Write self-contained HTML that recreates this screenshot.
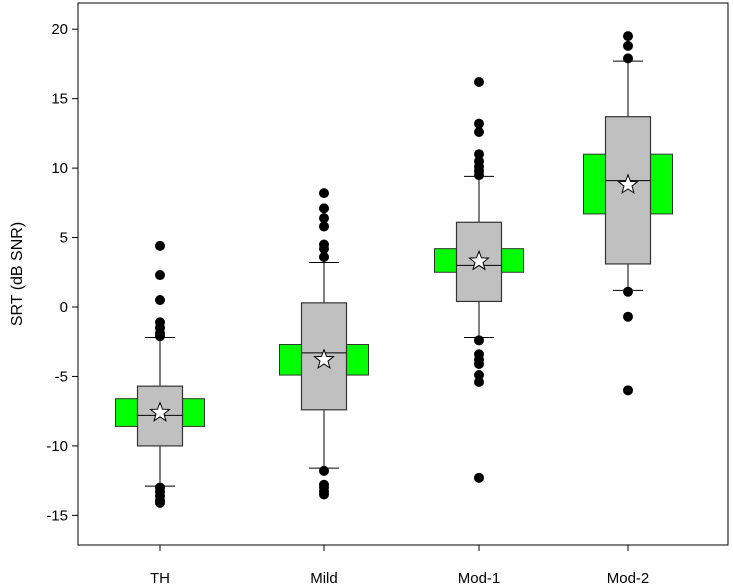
<!DOCTYPE html>
<html><head><meta charset="utf-8"><style>
html,body{margin:0;padding:0;background:#fff;}
svg{display:block;font-family:"Liberation Sans",Arial,sans-serif;}
</style></head><body>
<svg id="chart" width="733" height="584">
<g id="plot"></g>
</svg>
<script>
const categories=["TH","Mild","Mod-1","Mod-2"];
const whiskerHigh=[-2.2,3.2,9.4,17.7];
const q3=[-5.7,0.3,6.1,13.7];
const median=[-7.8,-3.3,3.0,9.1];
const q1=[-10.0,-7.4,0.4,3.1];
const whiskerLow=[-12.9,-11.6,-2.2,1.2];
const means=[-7.6,-3.8,3.3,8.8];
const greenHigh=[-6.6,-2.7,4.2,11.0];
const greenLow=[-8.6,-4.9,2.5,6.7];
const outliers=[
 [4.4,2.3,0.5,-1.1,-1.5,-1.9,-2.1,-13.0,-13.3,-13.6,-13.9,-14.1],
 [8.2,7.1,6.4,5.8,4.5,4.2,3.6,-11.8,-12.8,-13.0,-13.3,-13.5],
 [16.2,13.2,12.6,11.0,10.5,10.1,9.8,9.5,-2.4,-3.4,-3.8,-4.1,-4.9,-5.4,-12.3],
 [19.5,18.8,17.9,1.1,-0.7,-6.0]
];
const yTicks=[20,15,10,5,0,-5,-10,-15];
const NS="http://www.w3.org/2000/svg";
const g=document.getElementById('plot');
const L=78,R=728,T=3,B=545;
const y=v=>307-v*13.89;
const xc=[160,324,479,628];
function el(t,a){const e=document.createElementNS(NS,t);for(const k in a)e.setAttribute(k,a[k]);g.appendChild(e);return e;}
let f=el('rect',{x:L,y:T,width:R-L,height:B-T,fill:'none',stroke:'#000','stroke-width':1});


yTicks.forEach(v=>{
 let t=el('line',{x1:L-6,x2:L,y1:y(v),y2:y(v),stroke:'#000'});
 
 
 let tx=el('text',{x:L-10,y:y(v)+5,'text-anchor':'end','font-size':15});
 tx.textContent=v;
 
 
});
let yt=el('text',{x:0,y:0,'font-size':16,'text-anchor':'middle',transform:'translate(22,274) rotate(-90)'});
yt.textContent='SRT (dB SNR)';


function star(cx,cy,r){let p=[];for(let k=0;k<10;k++){const a=-Math.PI/2+k*Math.PI/5;const rr=k%2?r*0.42:r;p.push((cx+rr*Math.cos(a)).toFixed(1)+','+(cy+rr*Math.sin(a)).toFixed(1));}return p.join(' ');}
categories.forEach((c,i)=>{
 const cx=xc[i];
 let t=el('line',{x1:cx,x2:cx,y1:B,y2:B+6,stroke:'#000'});
 
 
 let lb=el('text',{x:cx,y:583,'text-anchor':'middle','font-size':15});
 lb.textContent=c;
 
 
 let gr=el('rect',{x:cx-44.5,y:y(greenHigh[i]),width:89,height:y(greenLow[i])-y(greenHigh[i]),fill:'#00ff00',stroke:'#333'});
 
 
 let w1=el('line',{x1:cx,x2:cx,y1:y(whiskerHigh[i]),y2:y(q3[i]),stroke:'#000'});
 
 
 let w2=el('line',{x1:cx,x2:cx,y1:y(q1[i]),y2:y(whiskerLow[i]),stroke:'#000'});
 
 
 [whiskerHigh[i],whiskerLow[i]].forEach(v=>{let c2=el('line',{x1:cx-15,x2:cx+15,y1:y(v),y2:y(v),stroke:'#000'});
 
 });
 let bx=el('rect',{x:cx-22.5,y:y(q3[i]),width:45,height:y(q1[i])-y(q3[i]),fill:'#c0c0c0',stroke:'#333','stroke-width':1.2});
 
 
 let md=el('line',{x1:cx-22.5,x2:cx+22.5,y1:y(median[i]),y2:y(median[i]),stroke:'#000'});
 
 
 outliers[i].forEach(v=>{let o=el('circle',{cx:cx,cy:y(v),r:5,fill:'#000'});
 
 });
 let s=el('polygon',{points:star(cx,y(means[i]),10),fill:'#fff',stroke:'#000'});
 
 
});
</script>
</body></html>
